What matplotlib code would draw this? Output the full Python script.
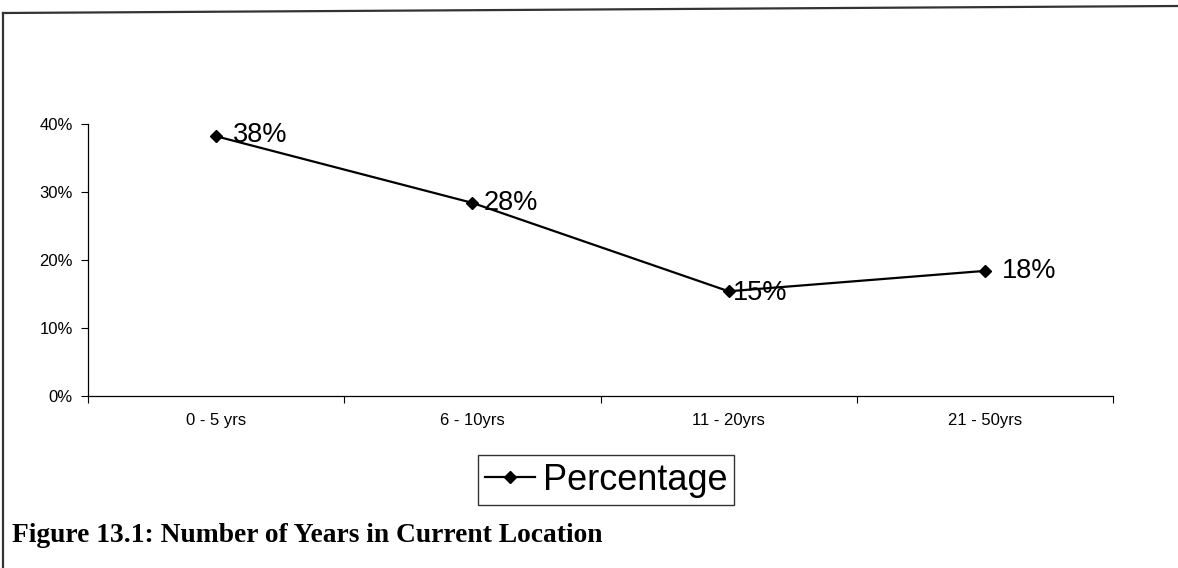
import matplotlib
matplotlib.use("Agg")
import matplotlib.pyplot as plt
from matplotlib.lines import Line2D
from matplotlib.ticker import PercentFormatter, FixedLocator, NullFormatter

categories = ["0 - 5 yrs", "6 - 10yrs", "11 - 20yrs", "21 - 50yrs"]
values = [0.382, 0.284, 0.154, 0.184]
labels = ["38%", "28%", "15%", "18%"]
series_name = "Percentage"
title = "Figure 13.1: Number of Years in Current Location"

plt.rcParams['font.family'] = ['Liberation Sans', 'DejaVu Sans']

fig = plt.figure(figsize=(11.78, 5.68), dpi=100)
ax = fig.add_axes([88/1178, 1-396/568, (1113-88)/1178, (396-124)/568])

x = list(range(len(categories)))
ax.plot(x, values, color='black', lw=1.6, marker='D', ms=6.5, label=series_name)

offsets = [(12, 1), (8, 0), (3, -1), (12, 0)]
for xi, v, lab, off in zip(x, values, labels, offsets):
    ax.annotate(lab, (xi, v), xytext=off, textcoords='offset points',
                ha='left', va='center', fontsize=19.5)

ax.set_xlim(-0.5, len(categories) - 0.5)
ax.set_ylim(0, 0.4)
ax.yaxis.set_major_formatter(PercentFormatter(1.0, decimals=0))
ax.set_yticks([0, 0.1, 0.2, 0.3, 0.4])
ax.tick_params(axis='y', labelsize=12, length=5, direction='out', width=0.8, pad=6)

ax.set_xticks(x)
ax.set_xticklabels(categories, fontsize=12)
ax.tick_params(axis='x', length=0, pad=12)
ax.xaxis.set_minor_locator(FixedLocator([-0.5, 0.5, 1.5, 2.5, 3.5]))
ax.xaxis.set_minor_formatter(NullFormatter())
ax.tick_params(axis='x', which='minor', length=5, direction='out', width=0.8)

for s in ['top', 'right']:
    ax.spines[s].set_visible(False)
ax.spines['left'].set_linewidth(0.9)
ax.spines['bottom'].set_linewidth(0.9)

leg = fig.legend(loc='center', bbox_to_anchor=(606/1178, 1-480/568), fontsize=26,
                 frameon=True, fancybox=False, edgecolor='black', handlelength=1.4,
                 handletextpad=0.2, borderpad=0.2, borderaxespad=0)
leg.get_frame().set_linewidth(1.0)

fig.text(12/1178, 1-535/568, title, fontsize=19.8, fontweight='bold',
         family=['Liberation Serif', 'DejaVu Serif'], ha='left', va='center')

# outer frame (top and left)
fig.add_artist(Line2D([3/1178, 3/1178], [0, 1-13/568], color='#333333', lw=1.6, transform=fig.transFigure))
fig.add_artist(Line2D([3/1178, 1], [1-13/568, 1-6/568], color='#333333', lw=1.6, transform=fig.transFigure))

fig.savefig("out.png", dpi=100)
